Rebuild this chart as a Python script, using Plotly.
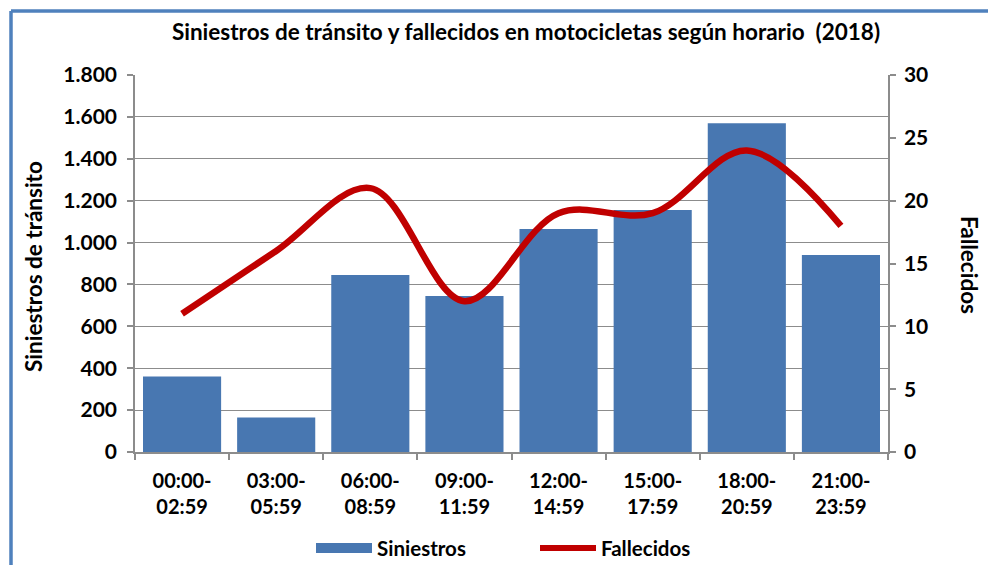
import plotly.graph_objects as go

categories = ["00:00-<br>02:59", "03:00-<br>05:59", "06:00-<br>08:59", "09:00-<br>11:59",
              "12:00-<br>14:59", "15:00-<br>17:59", "18:00-<br>20:59", "21:00-<br>23:59"]
siniestros = [360, 165, 845, 745, 1065, 1155, 1570, 940]
fallecidos = [11, 16, 21, 12, 19, 19, 24, 18]

left_ticks = [0, 200, 400, 600, 800, 1000, 1200, 1400, 1600, 1800]
left_ticktext = ["0", "200", "400", "600", "800", "1.000", "1.200", "1.400", "1.600", "1.800"]
right_ticks = [0, 5, 10, 15, 20, 25, 30]

FONT = "Lato"
BAR = "#4877B1"
RED = "#C00000"
GRID = "#8C8C8C"

W, H = 988, 565
L, R, T, B = 135, 100, 75, 113
PW = W - L - R
PH = H - T - B


def px(x):
    return (x - L) / PW


def py(y):
    return (H - B - y) / PH


fig = go.Figure()
fig.add_trace(go.Bar(x=categories, y=siniestros, name="Siniestros", marker=dict(color=BAR, line=dict(width=0)),
                     showlegend=False))
fig.add_trace(go.Scatter(x=categories, y=fallecidos, name="Fallecidos", yaxis="y2", mode="lines",
                         line=dict(color=RED, width=6.5, shape="spline", smoothing=1.0), showlegend=False))

fig.update_layout(
    width=W, height=H,
    margin=dict(l=L, r=R, t=T, b=B),
    paper_bgcolor="white", plot_bgcolor="white",
    font=dict(family=FONT, size=20, color="#000000", weight="bold"),
    bargap=0.17,
    title=dict(text="Siniestros de tránsito y fallecidos en motocicletas según horario  (2018)",
               x=526 / W, y=1 - 32 / H, xref="container", yref="container",
               xanchor="center", yanchor="middle",
               font=dict(family=FONT, size=22.5, weight="bold", color="#000000")),
    xaxis=dict(showline=True, linecolor=GRID, linewidth=1.5, ticks="outside", tickson="boundaries",
               ticklen=6, tickcolor=GRID, tickwidth=1.5, showgrid=False, ticklabelstandoff=10,
               tickfont=dict(family=FONT, size=20, weight="bold")),
    yaxis=dict(range=[0, 1800], tickvals=left_ticks, ticktext=left_ticktext, showline=True,
               linecolor=GRID, linewidth=1.5, ticks="outside", ticklen=6, tickcolor=GRID, tickwidth=1.5,
               showgrid=True, gridcolor=GRID, gridwidth=1.2, zeroline=False, ticklabelstandoff=6,
               tickfont=dict(family=FONT, size=21, weight="bold")),
    yaxis2=dict(range=[0, 30], tickvals=right_ticks, overlaying="y", side="right", showline=True,
                linecolor=GRID, linewidth=1.5, ticks="outside", ticklen=6, tickcolor=GRID, tickwidth=1.5,
                showgrid=False, zeroline=False, ticklabelstandoff=4,
                tickfont=dict(family=FONT, size=21, weight="bold")),
)

shapes = [
    # outer blue frame
    dict(type="line", xref="paper", yref="paper", x0=px(11), x1=px(1000), y0=py(11), y1=py(11),
         line=dict(color="#4F81BD", width=3.5)),
    dict(type="line", xref="paper", yref="paper", x0=px(11), x1=px(11), y0=py(11), y1=py(580),
         line=dict(color="#4F81BD", width=3.5)),
    # legend symbols
    dict(type="rect", xref="paper", yref="paper", x0=px(316), x1=px(372), y0=py(553), y1=py(543),
         fillcolor=BAR, line=dict(width=0)),
    dict(type="line", xref="paper", yref="paper", x0=px(540), x1=px(596), y0=py(548), y1=py(548),
         line=dict(color=RED, width=6)),
]

annotations = [
    dict(text="Siniestros de tránsito", xref="paper", yref="paper", x=px(33), y=py(267),
         textangle=-90, showarrow=False, xanchor="center", yanchor="middle",
         font=dict(family=FONT, size=22.5, weight="bold")),
    dict(text="Fallecidos", xref="paper", yref="paper", x=px(970), y=py(265),
         textangle=90, showarrow=False, xanchor="center", yanchor="middle",
         font=dict(family=FONT, size=22.5, weight="bold")),
    dict(text="Siniestros", xref="paper", yref="paper", x=px(375), y=py(548),
         showarrow=False, xanchor="left", yanchor="middle",
         font=dict(family=FONT, size=20.5, weight="bold")),
    dict(text="Fallecidos", xref="paper", yref="paper", x=px(599), y=py(548),
         showarrow=False, xanchor="left", yanchor="middle",
         font=dict(family=FONT, size=20.5, weight="bold")),
]

fig.update_layout(shapes=shapes, annotations=annotations)

fig.write_html("out.html", config={"displayModeBar": False},
               post_script="document.body.style.margin='0';document.body.style.overflow='hidden';")
